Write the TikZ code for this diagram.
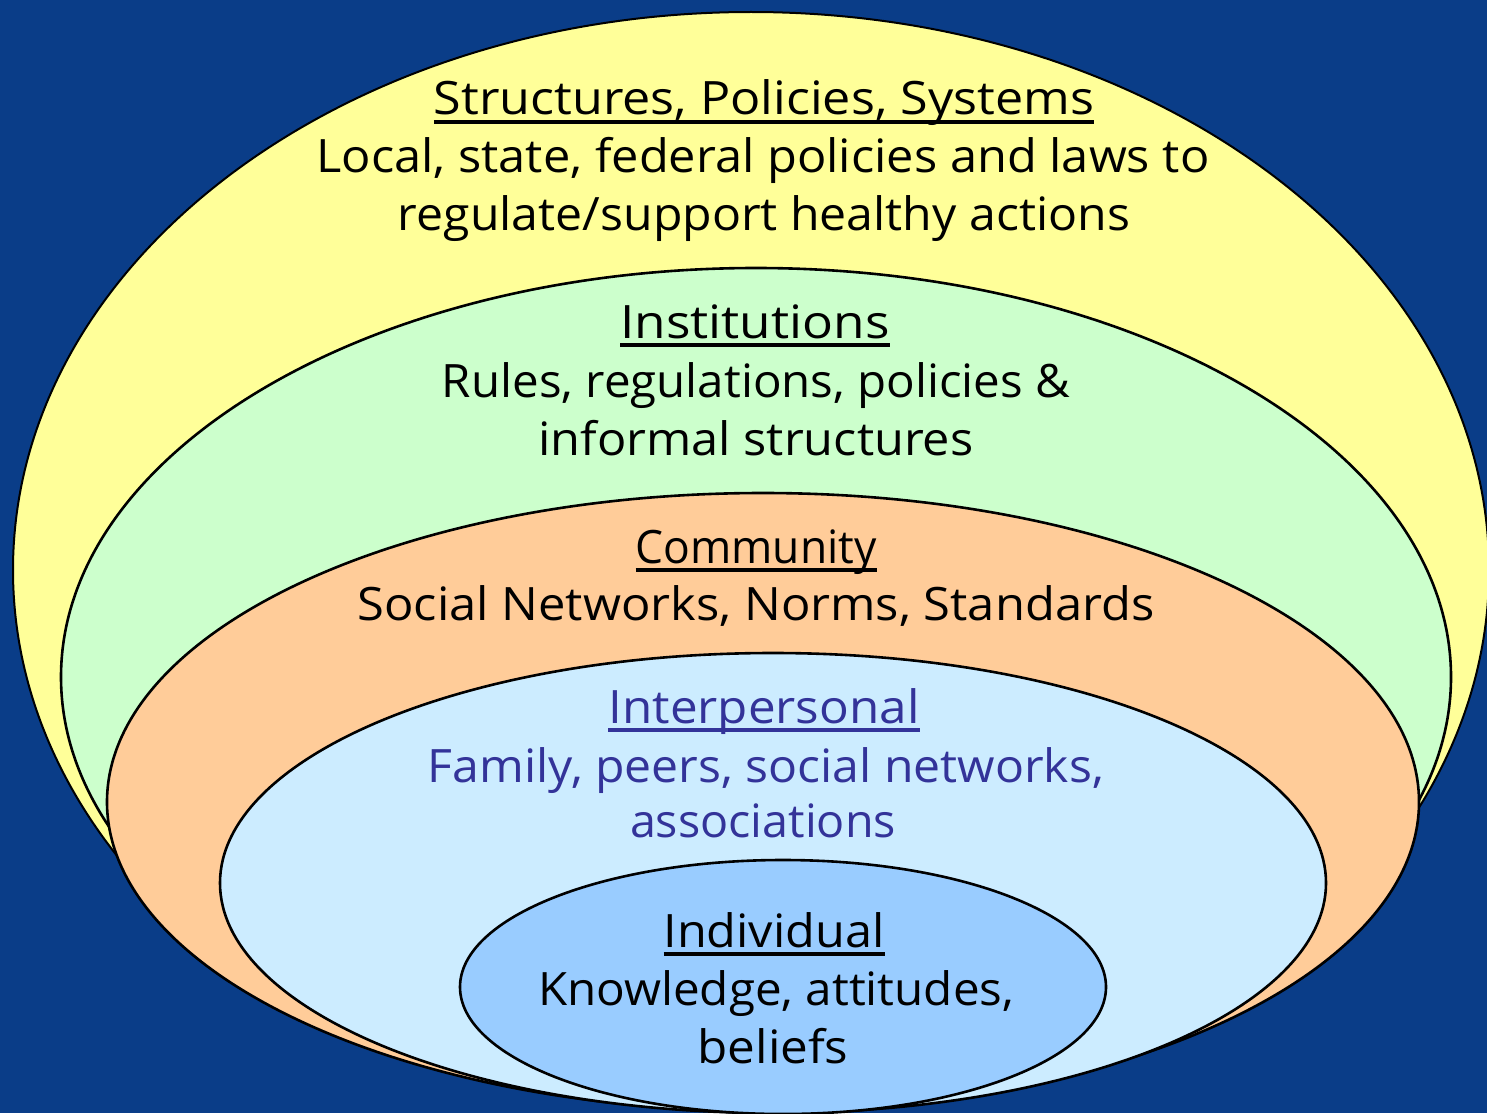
\documentclass[tikz,border=0pt]{standalone}
\usepackage{fontspec}
\setmainfont{Open Sans}
\usetikzlibrary{shapes.geometric}
\definecolor{bgblue}{RGB}{10,61,136}
\definecolor{yellowfill}{HTML}{FFFF99}
\definecolor{greenfill}{HTML}{CCFFCC}
\definecolor{peachfill}{HTML}{FFCC99}
\definecolor{lightbluefill}{HTML}{CCECFF}
\definecolor{indivfill}{HTML}{99CCFF}
\definecolor{interblue}{HTML}{333399}
\newcommand\ulbox[1]{\setbox0\hbox{#1}\rlap{\rule[-4.5pt]{\wd0}{1.8pt}}\box0}
\newcommand\fitw[2]{\resizebox{#1}{\height}{#2}}
\tikzset{
  layer/.style={ellipse, draw=black, line width=1.3pt, inner sep=0pt},
  txt/.style={anchor=base, inner sep=0pt, font=\fontsize{23}{28}\selectfont},
}
\begin{document}
\begin{tikzpicture}[x=0.5pt, y=-0.5pt]
\path[use as bounding box] (0,0) rectangle (1487,1113);
\fill[bgblue] (0,0) rectangle (1487,1113);
\clip (0,0) rectangle (1487,1113);
% outer layer: its lower part is hidden behind the inner layers
\begin{scope}
\clip (0,0) -- (1487,0) -- (1487,800) -- (1425,812) -- (763,1000) -- (118,862) -- (0,862) -- cycle;
\node[layer, fill=yellowfill, line width=1pt, minimum width=738pt, minimum height=558pt] (structures) at (751,570) {};
\end{scope}
\node[layer, fill=greenfill, minimum width=695pt, minimum height=409pt] (institutions) at (756,677) {};
\node[layer, fill=peachfill, minimum width=656pt, minimum height=309pt] (community) at (763,802) {};
\node[layer, fill=lightbluefill, minimum width=553pt, minimum height=230pt] (interpersonal) at (773,883) {};
\node[layer, fill=indivfill, minimum width=323pt, minimum height=127pt] (individual) at (783,987) {};
% texts
\node[txt] (s1) at (764,115) {\fitw{330pt}{\ulbox{Structures, Policies, Systems}}};
\node[txt] (s2) at (763,173) {\fitw{446.5pt}{Local, state, federal policies and laws to}};
\node[txt] (s3) at (764,230) {\fitw{366pt}{regulate/support healthy actions}};
\node[txt] (i1) at (755,338) {\fitw{134.5pt}{\ulbox{Institutions}}};
\node[txt] (i2) at (756,397) {\fitw{314pt}{Rules, regulations, policies \&}};
\node[txt] (i3) at (756,455) {\fitw{217.5pt}{informal structures}};
\node[txt] (c1) at (756,563) {\fitw{120.5pt}{\ulbox{Community}}};
\node[txt] (c2) at (756,620) {\fitw{398.5pt}{Social Networks, Norms, Standards}};
\node[txt, text=interblue] (p1) at (764,723) {\fitw{155.5pt}{\ulbox{Interpersonal}}};
\node[txt, text=interblue] (p2) at (766,782) {\fitw{338pt}{Family, peers, social networks,}};
\node[txt, text=interblue] (p3) at (763,837) {\fitw{133pt}{associations}};
\node[txt] (d1) at (774,947) {\fitw{110.5pt}{\ulbox{Individual}}};
\node[txt] (d2) at (776,1005) {\fitw{238pt}{Knowledge, attitudes,}};
\node[txt] (d3) at (773,1063) {\fitw{75.5pt}{beliefs}};
\end{tikzpicture}
\end{document}
